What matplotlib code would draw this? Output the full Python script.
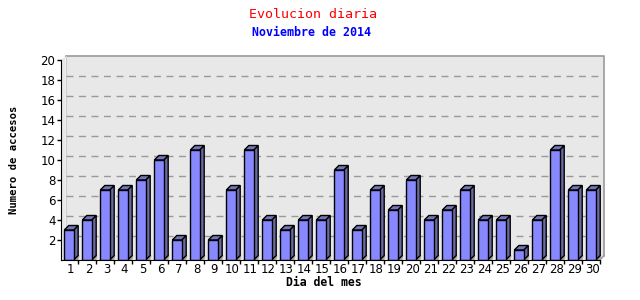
import matplotlib
matplotlib.use("Agg")
import matplotlib.pyplot as plt
from matplotlib.patches import Polygon, Rectangle

days = list(range(1, 31))
accesos = [3, 4, 7, 7, 8, 10, 2, 11, 2, 7, 11, 4, 3, 4, 4, 9, 3, 7, 5, 8,
           4, 5, 7, 4, 4, 1, 4, 11, 7, 7]
yticks = [2, 4, 6, 8, 10, 12, 14, 16, 18, 20]

W, H = 640, 300
fig = plt.figure(figsize=(6.4, 3.0), dpi=100)
fig.patch.set_facecolor("white")

xl, xr = 0.556, 30.72
yb, yt = 0.0, 20.5
ax = fig.add_axes([61 / W, 40 / H, (604 - 61) / W, 205 / H])
ax.set_xlim(xl, xr)
ax.set_ylim(yb, yt)
ax.set_facecolor("none")

dx, dy = 0.25, 0.45
bw = 0.52
top_panel = 20.45

# back wall
ax.add_patch(Rectangle((xl + dx, dy), xr - xl - dx, top_panel - dy,
                       facecolor="#e8e8e8", edgecolor="none", zorder=0))
# left wall
ax.add_patch(Polygon([(xl, 0), (xl + dx, dy), (xl + dx, top_panel), (xl, 20)],
                     closed=True, facecolor="#e8e8e8", edgecolor="none", zorder=0))
# floor
ax.add_patch(Polygon([(xl, 0), (30.5, 0), (xr, dy), (xl + dx, dy)],
                     closed=True, facecolor="#e8e8e8", edgecolor="none", zorder=0))
# panel border top/right
ax.plot([xl + dx, xr, xr], [top_panel, top_panel, dy], color="#999999",
        lw=1.2, zorder=1, clip_on=False)
ax.plot([xl + dx, xl + dx], [dy, top_panel], color="#cccccc", lw=0.8, zorder=1)
ax.plot([xr, 30.5], [dy, 0], color="#999999", lw=1.0, zorder=1, clip_on=False)

# dashed grid on back wall
for v in yticks[:-1]:
    ax.plot([xl + dx, xr], [v + dy, v + dy], color="#999999", lw=1.0,
            dashes=(5, 4), zorder=1)

# bars
for d, v in zip(days, accesos):
    x0 = d - bw / 2
    x1 = d + bw / 2
    # shadow on floor
    ax.add_patch(Polygon([(x0, 0), (x1 + dx, 0), (x1 + dx + dx * 0.3, dy), (x0 + dx, dy)],
                         closed=True, facecolor="#a0a0a0", edgecolor="none", zorder=2))
    # side
    ax.add_patch(Polygon([(x1, 0), (x1 + dx, dy), (x1 + dx, v + dy), (x1, v)],
                         closed=True, facecolor="#6b6ba3", edgecolor="black",
                         lw=1.0, zorder=3))
    # top
    ax.add_patch(Polygon([(x0, v), (x0 + dx, v + dy), (x1 + dx, v + dy), (x1, v)],
                         closed=True, facecolor="#7474b8", edgecolor="black",
                         lw=1.0, zorder=3))
# front faces via bar
ax.bar(days, accesos, width=bw, color="#8888ff", edgecolor="black",
       linewidth=1.0, zorder=4)

# axes
for s in ["top", "right"]:
    ax.spines[s].set_visible(False)
ax.spines["left"].set_bounds(0, 20)
ax.spines["bottom"].set_bounds(xl, 30.5)
ax.spines["left"].set_zorder(5)
ax.spines["bottom"].set_zorder(5)

ax.set_yticks(yticks)
ax.set_yticklabels([str(t) for t in yticks])
ax.tick_params(axis="y", length=3, width=1, pad=1, labelsize=8.5)

ax.set_xticks([d + 0.5 for d in days])
ax.set_xticklabels([])
ax.tick_params(axis="x", which="major", length=3, width=1)
ax.set_xticks([d + 0.08 for d in days], minor=True)
ax.set_xticklabels([str(d) for d in days], minor=True)
ax.tick_params(axis="x", which="minor", length=0, pad=2, labelsize=8.5)

fig.text(313 / W, 1 - 14 / H, "Evolucion diaria", color="#ff0000",
         family="DejaVu Sans Mono", fontsize=9.6, ha="center", va="center")
fig.text(312 / W, 1 - 32 / H, "Noviembre de 2014", color="#0000ff",
         family="DejaVu Sans Mono", fontweight="bold", fontsize=8.4,
         ha="center", va="center")
fig.text(324 / W, 1 - 282 / H, "Dia del mes", color="black",
         family="DejaVu Sans Mono", fontweight="bold", fontsize=8.3,
         ha="center", va="center")
fig.text(14 / W, 1 - 160 / H, "Numero de accesos", color="black",
         family="DejaVu Sans Mono", fontweight="bold", fontsize=7.6,
         ha="center", va="center", rotation=90)

fig.savefig("out.png", dpi=100, facecolor="white")
